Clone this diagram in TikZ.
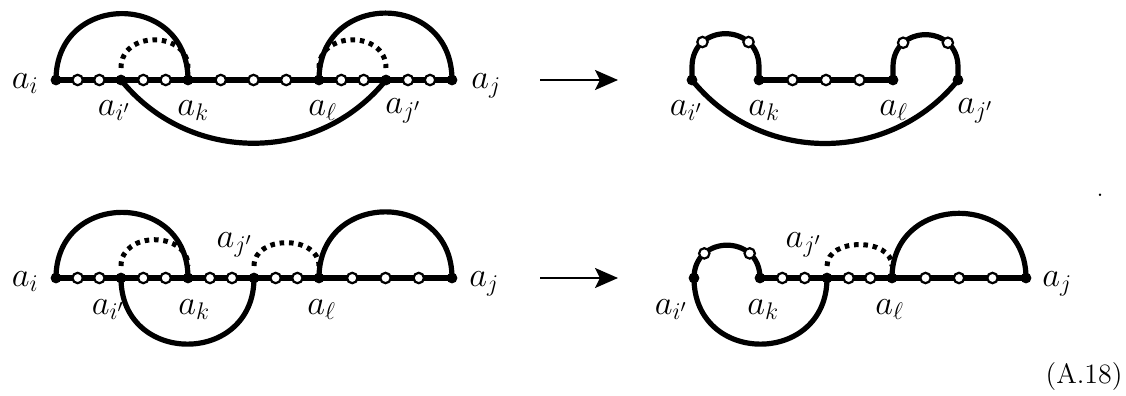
\documentclass[tikz,border=0pt]{standalone}
\usetikzlibrary{arrows.meta}

\begin{document}
\begin{tikzpicture}[
    x=0.5pt, y=0.5pt,
    vx/.style={circle, fill=black, inner sep=0pt, minimum size=5.4pt},
    hole/.style={circle, draw=black, fill=white, line width=1.1pt,
                 inner sep=0pt, minimum size=5.2pt},
    wire/.style={line width=2.6pt},
    ghost/.style={line width=2.5pt, dash pattern=on 2.3pt off 2.4pt,
                  shorten <=6pt, shorten >=6pt},
    lab/.style={font=\fontsize{18}{21}\selectfont, inner sep=0pt},
    maps/.style={line width=1.2pt, -{Stealth[length=11.5pt, width=10pt, inset=2.5pt]}}
  ]
  \useasboundingbox (0,0) rectangle (1126,-396);

  % top left
  \node[vx] (ai1) at (56,-80) {};
  \node[vx] (ip1) at (121,-80) {};
  \node[vx] (k1) at (188,-80) {};
  \node[vx] (l1) at (319,-80) {};
  \node[vx] (jp1) at (386,-80) {};
  \node[vx] (j1) at (452,-80) {};
  \draw[wire] (ai1.center) to[out=90, in=90, looseness=1.72] (k1.center);
  \draw[wire] (l1.center) to[out=90, in=90, looseness=1.72] (j1.center);
  \draw[wire] (ip1.center) to[out=-51, in=-129, looseness=1.05] (jp1.center);
  \draw[ghost] (ip1.center) to[out=90, in=90, looseness=1.9] (k1.center);
  \draw[ghost] (l1.center) to[out=90, in=90, looseness=1.9] (jp1.center);
  \draw[wire] (ai1.center)
    -- node[hole, pos=.333] (tl1) {} node[hole, pos=.667] (tl2) {} (ip1.center)
    -- node[hole, pos=.333] (tl3) {} node[hole, pos=.667] (tl4) {} (k1.center)
    -- node[hole, pos=.25] (tl5) {} node[hole, pos=.5] (tl6) {}
       node[hole, pos=.75] (tl7) {} (l1.center)
    -- node[hole, pos=.333] (tl8) {} node[hole, pos=.667] (tl9) {} (jp1.center)
    -- node[hole, pos=.333] (tl10) {} node[hole, pos=.667] (tl11) {} (j1.center);
  \node[lab, anchor=base east] (lai1) at ([shift={(-17,-8)}]ai1.center) {$a_i$};
  \node[lab, anchor=base east] (lip1) at ([shift={(10,-35)}]ip1.center) {$a_{i'}$};
  \node[lab, anchor=base west] (lk1) at ([shift={(-11,-35)}]k1.center) {$a_k$};
  \node[lab, anchor=base west] (ll1) at ([shift={(-11,-35)}]l1.center) {$a_\ell$};
  \node[lab, anchor=base west] (ljp1) at ([shift={(-1,-33)}]jp1.center) {$a_{j'}$};
  \node[lab, anchor=base west] (lj1) at ([shift={(19,-8)}]j1.center) {$a_j$};

  % top arrow
  \coordinate (m1) at (540,-80);
  \coordinate (m2) at (618,-80);
  \draw[maps] (m1) -- (m2);

  % top right
  \node[vx] (ip2) at (692,-80) {};
  \node[vx] (k2) at (759,-80) {};
  \node[vx] (l2) at (893,-80) {};
  \node[vx] (jp2) at (958,-80) {};
  \draw[wire] (ip2.center) to[out=-51, in=-129, looseness=1.05] (jp2.center);
  \draw[wire] (ip2.center) -- ++(0,13)
    to[out=90, in=90, looseness=1.7]
      node[hole, pos=.25] (tr1) {} node[hole, pos=.75] (tr2) {} ++(67,0)
    -- (k2.center);
  \draw[wire] (l2.center) -- ++(0,13)
    to[out=90, in=90, looseness=1.7]
      node[hole, pos=.25] (tr6) {} node[hole, pos=.75] (tr7) {} ++(65,0)
    -- (jp2.center);
  \draw[wire] (k2.center)
    -- node[hole, pos=.25] (tr3) {} node[hole, pos=.5] (tr4) {}
       node[hole, pos=.75] (tr5) {} (l2.center);
  \node[lab, anchor=base east] (lip2) at ([shift={(11,-35)}]ip2.center) {$a_{i'}$};
  \node[lab, anchor=base west] (lk2) at ([shift={(-11,-35)}]k2.center) {$a_k$};
  \node[lab, anchor=base west] (ll2) at ([shift={(-14,-35)}]l2.center) {$a_\ell$};
  \node[lab, anchor=base west] (ljp2) at ([shift={(-1,-33)}]jp2.center) {$a_{j'}$};

  % bottom left
  \node[vx] (ai3) at (56,-278) {};
  \node[vx] (ip3) at (121,-278) {};
  \node[vx] (k3) at (188,-278) {};
  \node[vx] (jp3) at (254,-278) {};
  \node[vx] (l3) at (319,-278) {};
  \node[vx] (j3) at (452,-278) {};
  \draw[wire] (ai3.center) to[out=90, in=90, looseness=1.7] (k3.center);
  \draw[wire] (l3.center) to[out=90, in=90, looseness=1.7] (j3.center);
  \draw[wire] (ip3.center) to[out=-90, in=-90, looseness=1.7] (jp3.center);
  \draw[ghost] (ip3.center) to[out=90, in=90, looseness=1.8] (k3.center);
  \draw[ghost] (jp3.center) to[out=90, in=90, looseness=1.7] (l3.center);
  \draw[wire] (ai3.center)
    -- node[hole, pos=.333] (bl1) {} node[hole, pos=.667] (bl2) {} (ip3.center)
    -- node[hole, pos=.333] (bl3) {} node[hole, pos=.667] (bl4) {} (k3.center)
    -- node[hole, pos=.333] (bl5) {} node[hole, pos=.667] (bl6) {} (jp3.center)
    -- node[hole, pos=.333] (bl7) {} node[hole, pos=.667] (bl8) {} (l3.center)
    -- node[hole, pos=.25] (bl9) {} node[hole, pos=.5] (bl10) {}
       node[hole, pos=.75] (bl11) {} (j3.center);
  \node[lab, anchor=base east] (lai3) at ([shift={(-17,-8)}]ai3.center) {$a_i$};
  \node[lab, anchor=base east] (lip3) at ([shift={(4,-36)}]ip3.center) {$a_{i'}$};
  \node[lab, anchor=base west] (lk3) at ([shift={(-10,-36)}]k3.center) {$a_k$};
  \node[lab, anchor=base east] (ljp3) at ([shift={(-1,31)}]jp3.center) {$a_{j'}$};
  \node[lab, anchor=base west] (ll3) at ([shift={(-12,-36)}]l3.center) {$a_\ell$};
  \node[lab, anchor=base west] (lj3) at ([shift={(17,-8)}]j3.center) {$a_j$};

  % bottom arrow
  \coordinate (m3) at (540,-278);
  \coordinate (m4) at (618,-278);
  \draw[maps] (m3) -- (m4);

  % bottom right
  \node[vx] (ip4) at (694,-278) {};
  \node[vx] (k4) at (760,-278) {};
  \node[vx] (jp4) at (827,-278) {};
  \node[vx] (l4) at (892,-278) {};
  \node[vx] (j4) at (1026,-278) {};
  \draw[wire] (ip4.center) to[out=-90, in=-90, looseness=1.7] (jp4.center);
  \draw[wire] (l4.center) to[out=90, in=90, looseness=1.65] (j4.center);
  \draw[ghost] (jp4.center) to[out=90, in=90, looseness=1.6] (l4.center);
  \draw[wire] (ip4.center) to[out=90, in=90, looseness=1.7]
    node[hole, pos=.25] (br1) {} node[hole, pos=.75] (br2) {} (k4.center);
  \draw[wire] (k4.center)
    -- node[hole, pos=.333] (br3) {} node[hole, pos=.667] (br4) {} (jp4.center)
    -- node[hole, pos=.333] (br5) {} node[hole, pos=.667] (br6) {} (l4.center)
    -- node[hole, pos=.25] (br7) {} node[hole, pos=.5] (br8) {}
       node[hole, pos=.75] (br9) {} (j4.center);
  \node[lab, anchor=base east] (lip4) at ([shift={(-6,-36)}]ip4.center) {$a_{i'}$};
  \node[lab, anchor=base west] (lk4) at ([shift={(-13,-36)}]k4.center) {$a_k$};
  \node[lab, anchor=base east] (ljp4) at ([shift={(-5,31)}]jp4.center) {$a_{j'}$};
  \node[lab, anchor=base west] (ll4) at ([shift={(-17,-36)}]l4.center) {$a_\ell$};
  \node[lab, anchor=base west] (lj4) at ([shift={(16,-8)}]j4.center) {$a_j$};

  % closing stop and equation number
  \node[font=\fontsize{15}{18}\selectfont, inner sep=0pt, anchor=base] (stop) at (1100,-196) {.};
  \node[font=\fontsize{14}{17}\selectfont, inner sep=0pt, anchor=base east] (eqno) at (1123,-383) {(A.18)};
\end{tikzpicture}
\end{document}
